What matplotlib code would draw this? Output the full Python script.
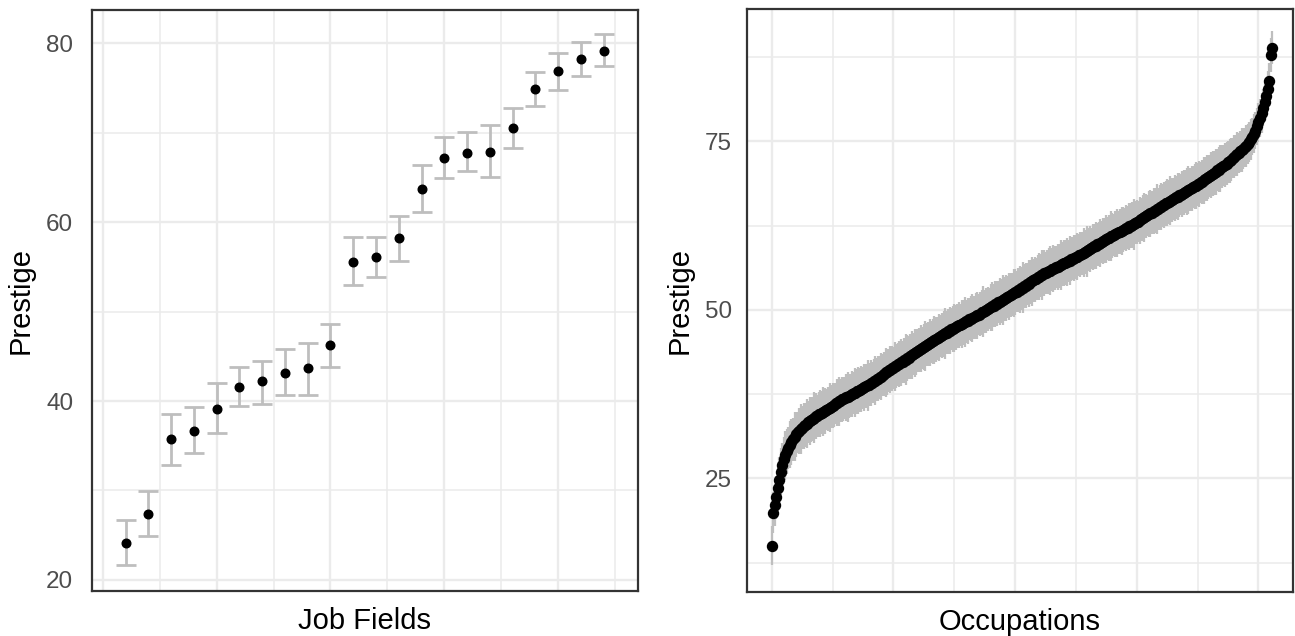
import matplotlib
matplotlib.use("Agg")
import matplotlib.pyplot as plt
from matplotlib.ticker import FixedLocator, NullFormatter

plt.rcParams['font.family'] = ['Liberation Sans', 'DejaVu Sans']

# ---------------- Left panel: job fields ----------------
field_prestige = [24.17, 27.41, 35.72, 36.65, 39.11, 41.56, 42.20, 43.16, 43.65, 46.29,
                  55.56, 56.12, 58.25, 63.69, 67.15, 67.74, 67.79, 70.54, 74.83, 76.87,
                  78.25, 79.14]
field_lower = [21.64, 24.88, 32.82, 34.22, 36.42, 39.44, 39.66, 40.70, 40.70, 43.80,
               52.96, 53.89, 55.68, 61.08, 64.88, 65.73, 65.06, 68.30, 72.93, 74.75,
               76.35, 77.43]
field_upper = [26.70, 29.91, 38.58, 39.30, 42.04, 43.80, 44.50, 45.78, 46.51, 48.64,
               58.36, 58.36, 60.67, 66.34, 69.53, 70.06, 70.80, 72.74, 76.73, 78.88,
               80.11, 81.01]
field_rank = list(range(1, len(field_prestige) + 1))
left_yticks = [20, 40, 60, 80]

# ---------------- Right panel: occupations (sorted by prestige) ----------------
occ_prestige = [
    15.0, 19.9, 21.0, 22.2, 23.5, 24.8, 26.0, 27.0, 27.8, 28.4,
    29.0, 29.5, 30.0, 30.4, 30.8, 31.2, 31.5, 31.8, 32.0, 32.3,
    32.5, 32.7, 32.9, 33.1, 33.3, 33.5, 33.7, 33.8, 34.0, 34.2,
    34.3, 34.5, 34.6, 34.7, 34.9, 35.0, 35.2, 35.3, 35.5, 35.6,
    35.8, 35.9, 36.1, 36.2, 36.4, 36.5, 36.7, 36.8, 36.9, 37.0,
    37.1, 37.2, 37.3, 37.5, 37.6, 37.7, 37.9, 38.0, 38.1, 38.3,
    38.4, 38.5, 38.7, 38.8, 38.9, 39.1, 39.2, 39.4, 39.5, 39.7,
    39.8, 40.0, 40.1, 40.3, 40.5, 40.7, 40.8, 41.0, 41.1, 41.3,
    41.4, 41.6, 41.7, 41.9, 42.0, 42.2, 42.3, 42.5, 42.6, 42.8,
    42.9, 43.1, 43.3, 43.4, 43.6, 43.7, 43.9, 44.0, 44.2, 44.3,
    44.5, 44.6, 44.8, 44.9, 45.1, 45.2, 45.3, 45.5, 45.6, 45.8,
    45.9, 46.1, 46.2, 46.4, 46.5, 46.6, 46.8, 46.9, 47.1, 47.2,
    47.3, 47.4, 47.6, 47.7, 47.8, 47.9, 48.1, 48.2, 48.3, 48.4,
    48.6, 48.7, 48.8, 48.9, 49.1, 49.2, 49.3, 49.4, 49.6, 49.7,
    49.8, 49.9, 50.1, 50.2, 50.4, 50.5, 50.6, 50.8, 50.9, 51.1,
    51.2, 51.3, 51.5, 51.6, 51.8, 51.9, 52.0, 52.2, 52.3, 52.5,
    52.6, 52.7, 52.9, 53.0, 53.2, 53.3, 53.5, 53.6, 53.8, 53.9,
    54.1, 54.2, 54.4, 54.5, 54.6, 54.8, 54.9, 55.1, 55.2, 55.4,
    55.5, 55.6, 55.7, 55.8, 56.0, 56.1, 56.2, 56.3, 56.4, 56.5,
    56.7, 56.8, 56.9, 57.0, 57.1, 57.2, 57.3, 57.5, 57.6, 57.7,
    57.8, 57.9, 58.1, 58.2, 58.3, 58.5, 58.6, 58.7, 58.9, 59.0,
    59.1, 59.3, 59.4, 59.5, 59.7, 59.8, 59.9, 60.1, 60.2, 60.3,
    60.5, 60.6, 60.7, 60.9, 61.0, 61.1, 61.2, 61.4, 61.5, 61.6,
    61.7, 61.9, 62.0, 62.1, 62.2, 62.4, 62.5, 62.6, 62.7, 62.9,
    63.0, 63.1, 63.3, 63.4, 63.6, 63.7, 63.9, 64.0, 64.2, 64.3,
    64.4, 64.6, 64.7, 64.9, 65.0, 65.2, 65.3, 65.5, 65.6, 65.8,
    65.9, 66.0, 66.2, 66.3, 66.4, 66.6, 66.7, 66.8, 67.0, 67.1,
    67.2, 67.4, 67.5, 67.6, 67.8, 67.9, 68.0, 68.2, 68.3, 68.4,
    68.6, 68.7, 68.9, 69.0, 69.2, 69.4, 69.5, 69.7, 69.8, 70.0,
    70.2, 70.3, 70.5, 70.7, 70.8, 71.0, 71.2, 71.4, 71.5, 71.7,
    71.9, 72.1, 72.3, 72.5, 72.7, 72.9, 73.1, 73.3, 73.5, 73.7,
    73.9, 74.1, 74.3, 74.6, 74.9, 75.3, 75.7, 76.1, 76.6, 77.2,
    77.8, 78.5, 79.2, 80.0, 80.8, 81.7, 82.8, 84.0, 87.8, 88.9]
occ_err = [
    2.9, 3.0, 3.1, 3.2, 3.4, 3.3, 3.5, 3.2, 3.4, 3.6,
    3.3, 3.1, 3.5, 3.4, 3.2, 3.6, 3.3, 3.1, 3.4, 3.7,
    3.2, 3.4, 3.3, 3.6, 3.1, 3.5, 3.3, 3.2, 3.8, 3.4,
    3.1, 3.3, 3.5, 3.2, 3.6, 3.4, 3.1, 3.3, 3.7, 3.2,
    3.4, 3.3, 3.1, 3.5, 3.6, 3.2, 3.4, 3.3, 3.1, 3.5,
    3.7, 3.3, 3.2, 3.4, 3.1, 3.6, 3.3, 3.5, 3.2, 3.4,
    3.1, 3.5, 3.3, 3.8, 3.2, 3.4, 3.1, 3.3, 3.6, 3.2,
    3.4, 3.2, 3.5, 3.1, 3.3, 3.7, 3.4, 3.2, 3.5, 3.3,
    3.1, 3.6, 3.3, 3.2, 3.4, 3.5, 3.1, 3.3, 3.8, 3.4,
    3.2, 3.3, 3.5, 3.1, 3.6, 3.4, 3.2, 3.3, 3.5, 3.1,
    3.4, 3.7, 3.2, 3.3, 3.5, 3.1, 3.4, 3.6, 3.3, 3.2,
    3.5, 3.1, 3.3, 3.4, 3.8, 3.2, 3.3, 3.5, 3.1, 3.4,
    3.6, 3.3, 3.2, 3.4, 3.1, 3.5, 3.3, 3.7, 3.2, 3.4,
    3.1, 3.3, 3.6, 3.2, 3.4, 3.5, 3.1, 3.3, 3.4, 3.8,
    3.2, 3.4, 3.3, 3.1, 3.5, 3.6, 3.2, 3.4, 3.3, 3.1,
    3.5, 3.3, 3.7, 3.2, 3.4, 3.1, 3.5, 3.3, 3.2, 3.6,
    3.4, 3.1, 3.3, 3.5, 3.2, 3.8, 3.3, 3.4, 3.1, 3.5,
    3.3, 3.6, 3.2, 3.4, 3.1, 3.3, 3.5, 3.2, 3.7, 3.4,
    3.1, 3.3, 3.4, 3.6, 3.2, 3.5, 3.3, 3.1, 3.4, 3.3,
    3.7, 3.2, 3.4, 3.3, 3.5, 3.1, 3.6, 3.3, 3.2, 3.4,
    3.3, 3.5, 3.1, 3.4, 3.2, 3.6, 3.3, 3.8, 3.2, 3.4,
    3.1, 3.4, 3.3, 3.5, 3.2, 3.3, 3.6, 3.1, 3.4, 3.3,
    3.5, 3.2, 3.4, 3.7, 3.3, 3.1, 3.4, 3.5, 3.2, 3.3,
    3.6, 3.3, 3.1, 3.4, 3.2, 3.5, 3.3, 3.4, 3.8, 3.2,
    3.3, 3.1, 3.5, 3.2, 3.4, 3.6, 3.3, 3.1, 3.4, 3.5,
    3.2, 3.4, 3.3, 3.7, 3.1, 3.3, 3.5, 3.2, 3.4, 3.3,
    3.5, 3.2, 3.6, 3.3, 3.1, 3.4, 3.2, 3.5, 3.3, 3.1,
    3.4, 3.3, 3.2, 3.5, 3.6, 3.2, 3.4, 3.1, 3.3, 3.5,
    3.2, 3.4, 3.1, 3.3, 3.5, 3.2, 3.4, 3.3, 3.1, 3.4,
    3.3, 3.2, 3.4, 3.1, 3.3, 3.5, 3.2, 3.1, 3.3, 3.2,
    3.1, 3.3, 3.2, 3.0, 3.2, 3.1, 3.3, 3.0, 3.1, 3.2,
    3.0, 2.9, 3.1, 3.0, 2.9, 3.0, 2.8, 2.9, 2.8, 2.7,
    2.9, 2.8, 2.9, 2.7, 2.8, 2.7, 2.6, 2.6, 2.5, 2.4]
occ_rank = list(range(len(occ_prestige)))
right_yticks = [25, 50, 75]

# ---------------- Styling ----------------
GRID = '#EBEBEB'
BORDER = '#333333'
BAR = '#BEBEBE'
TICKCOL = '#4D4D4D'

fig = plt.figure(figsize=(12.95, 6.36), dpi=100)


def style(ax, xmaj, xmin, ymaj, ymin, pad):
    ax.set_facecolor('white')
    ax.xaxis.set_major_locator(FixedLocator(xmaj))
    ax.xaxis.set_minor_locator(FixedLocator(xmin))
    ax.yaxis.set_major_locator(FixedLocator(ymaj))
    ax.yaxis.set_minor_locator(FixedLocator(ymin))
    ax.xaxis.set_major_formatter(NullFormatter())
    ax.grid(which='major', color=GRID, linewidth=1.7, zorder=0)
    ax.grid(which='minor', color=GRID, linewidth=1.1, zorder=0)
    ax.set_axisbelow(True)
    ax.tick_params(which='both', length=0)
    ax.tick_params(axis='y', labelsize=17.5, labelcolor=TICKCOL, pad=pad)
    for s in ax.spines.values():
        s.set_color(BORDER)
        s.set_linewidth(1.6)


# Left axes
axL = fig.add_axes([92 / 1295, 45 / 636, 545.7 / 1295, 581 / 636])
axL.errorbar(field_rank, field_prestige,
             yerr=[[p - l for p, l in zip(field_prestige, field_lower)],
                   [u - p for p, u in zip(field_prestige, field_upper)]],
             fmt='none', ecolor=BAR, elinewidth=2.0, capsize=7.2, capthick=2.0, zorder=2)
axL.plot(field_rank, field_prestige, 'o', color='black', markersize=6.2, zorder=3)
axL.set_xlim(-0.48, 23.5)
axL.set_ylim(18.77, 83.69)
style(axL, [0, 5, 10, 15, 20], [2.5, 7.5, 12.5, 17.5, 22.5],
      left_yticks, [30, 50, 70], 13.5)
axL.set_yticklabels([str(t) for t in left_yticks])
axL.set_xlabel('Job Fields', fontsize=21, labelpad=8)
axL.set_ylabel('Prestige', fontsize=21, labelpad=8)

# Right axes
axR = fig.add_axes([747 / 1295, 44 / 636, 546 / 1295, 583 / 636])
axR.errorbar(occ_rank, occ_prestige, yerr=occ_err, fmt='none', ecolor=BAR,
             elinewidth=1.6, capsize=0, zorder=2)
axR.plot(occ_rank, occ_prestige, 'o', color='black', markersize=7.2, zorder=3)
axR.set_xlim(-16.24, 342.7)
axR.set_ylim(8.13, 94.63)
style(axR, [0, 80, 160, 240, 320], [40, 120, 200, 280],
      right_yticks, [12.5, 37.5, 62.5, 87.5], 11)
axR.set_yticklabels([str(t) for t in right_yticks])
axR.set_xlabel('Occupations', fontsize=21, labelpad=8)
axR.set_ylabel('Prestige', fontsize=21, labelpad=8)

fig.savefig('out.png', dpi=100, facecolor='white')
